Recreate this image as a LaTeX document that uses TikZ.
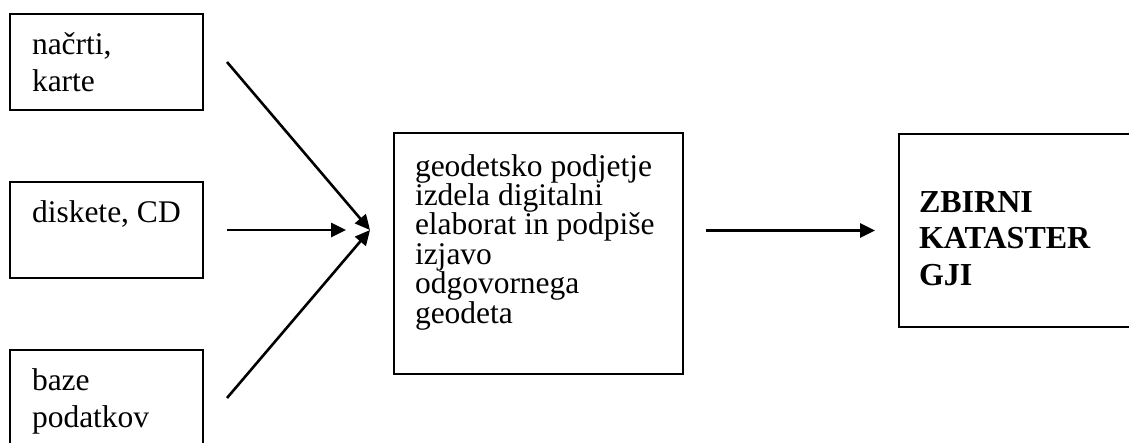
\documentclass[tikz,border=0pt]{standalone}
\usepackage{fontspec}
\setmainfont{Liberation Serif}
\usetikzlibrary{arrows.meta}
\begin{document}
\begin{tikzpicture}[x=1pt,y=-1pt,
  box/.style={draw, line width=2pt, inner sep=0pt, outer sep=0pt},
  txt/.style={anchor=base west, inner sep=0pt, outer sep=0pt},
  flow/.style={line width=2.6pt, -{Triangle[length=15pt,width=14pt]}}]
\useasboundingbox (0,0) rectangle (1129,442);
\clip (0,0) rectangle (1129,442);

% source boxes
\node[box, minimum width=193pt, minimum height=96pt] (b1) at (106.5,62) {};
\node[box, minimum width=193pt, minimum height=96pt] (b2) at (106.5,230) {};
\node[box, minimum width=193pt, minimum height=96pt] (b3) at (106.5,398) {};
% processing box
\node[box, minimum width=289pt, minimum height=241pt] (mid) at (538.5,253.5) {};
% result box
\node[box, minimum width=262pt, minimum height=193pt] (res) at (1030,230.5) {};

% texts
\node[txt] (t1) at (32,54) {\fontsize{31.5}{37}\selectfont\parbox[t]{170pt}{načrti,\\karte}};
\node[txt] (t2) at (32,222) {\fontsize{31.5}{37}\selectfont diskete, CD};
\node[txt] (t3) at (32,390) {\fontsize{31.5}{37}\selectfont\parbox[t]{170pt}{baze\\podatkov}};
\node[txt] (tm) at (415,176) {\fontsize{31.5}{29.4}\selectfont\parbox[t]{270pt}{geodetsko podjetje\\izdela digitalni\\elaborat in podpiše\\izjavo\\odgovornega\\geodeta}};
\node[txt] (tr) at (919,212) {\fontsize{32}{36.5}\selectfont\bfseries\parbox[t]{200pt}{ZBIRNI\\KATASTER\\GJI}};

% connectors
\coordinate (join) at (370,230);
\coordinate (j2) at (346,230);
\draw[flow] ([xshift=24pt]b1.east) -- (join);
\draw[flow] ([xshift=24pt]b2.east) -- (j2);
\draw[flow] ([xshift=24pt]b3.east) -- (join);
\draw[flow] ([xshift=23pt]mid.east |- res.west) -- ([xshift=-24pt]res.west);
\end{tikzpicture}
\end{document}
